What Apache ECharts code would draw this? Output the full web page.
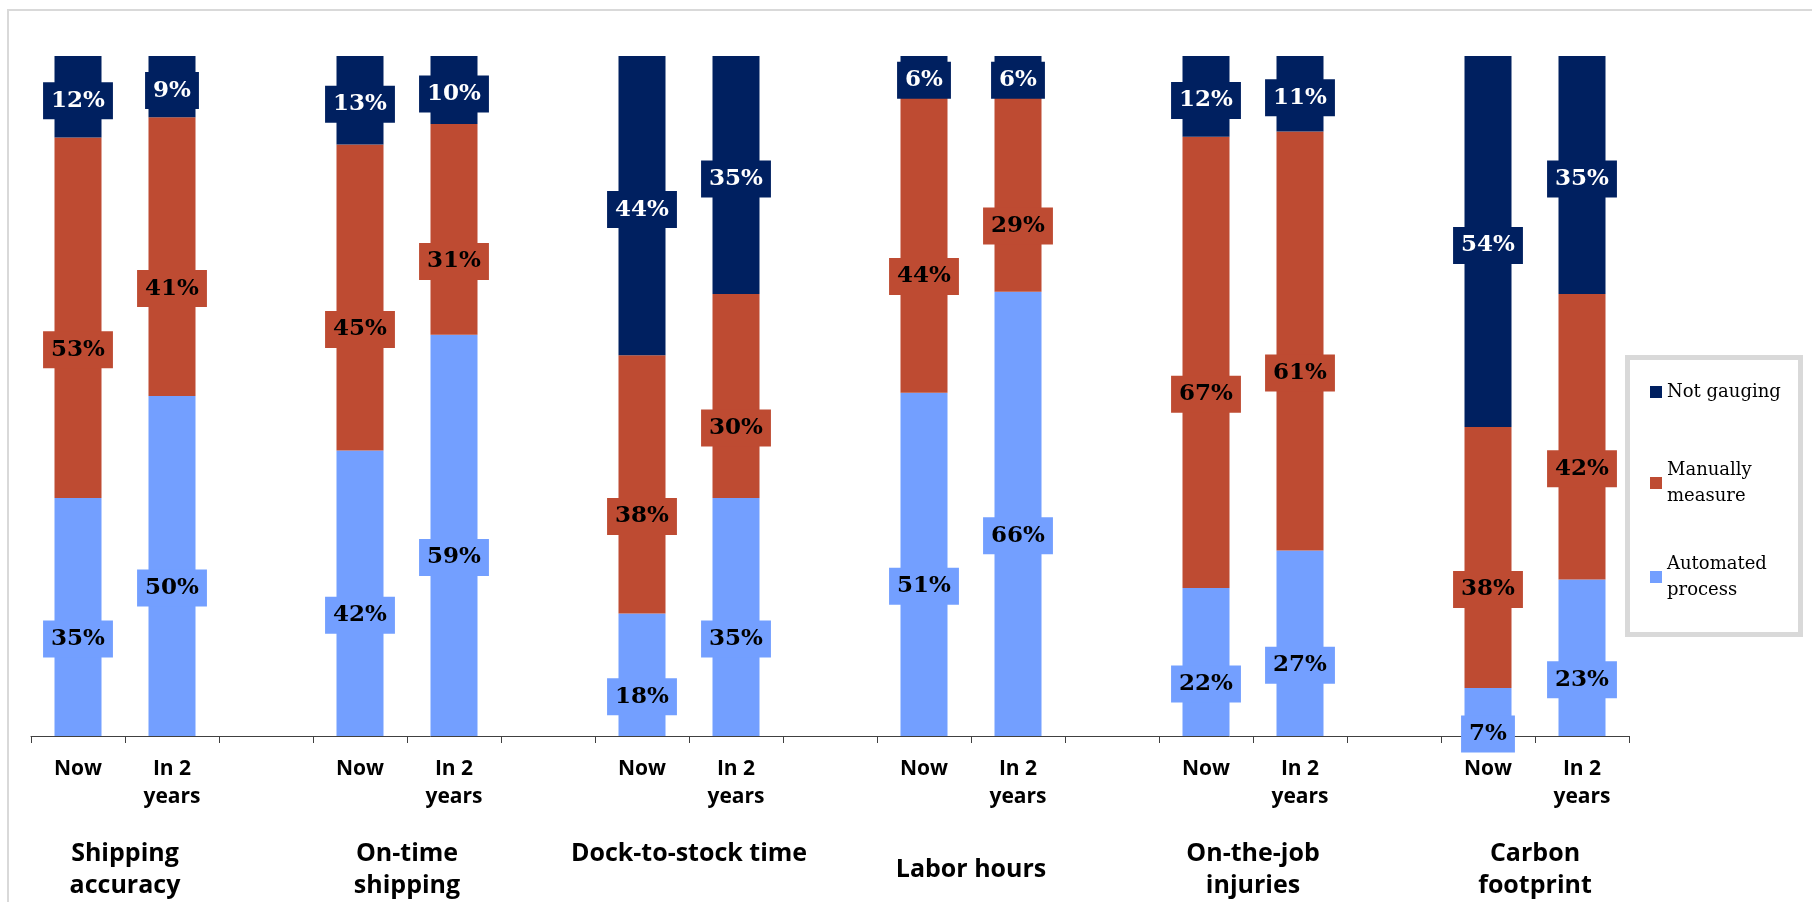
<!DOCTYPE html>
<html>
<head>
<meta charset="utf-8">
<script src="https://cdn.jsdelivr.net/npm/echarts@6/dist/echarts.min.js"></script>
<style>
  html, body { margin: 0; padding: 0; background: #ffffff; }
  #chart { width: 1812px; height: 902px; }
</style>
</head>
<body>
<div id="chart"></div>
<script>
// Metric groups along the bottom, each with a "Now" and an "In 2 years" bar
const groups = ['Shipping\naccuracy', 'On-time\nshipping', 'Dock-to-stock time\n', 'Labor hours', 'On-the-job\ninjuries', 'Carbon\nfootprint'];
const periods = ['Now', 'In 2\nyears'];

// Shares (%) per bar, ordered group by group: Now, In 2 years
const automated  = [35, 50, 42, 59, 18, 35, 51, 66, 22, 27, 7, 23];
const manual     = [53, 41, 45, 31, 38, 30, 44, 29, 67, 61, 38, 42];
const notGauging = [12, 9, 13, 10, 44, 35, 6, 6, 12, 11, 54, 35];

const seriesNames = ['Automated process', 'Manually measure', 'Not gauging'];
const legendText = {
  'Not gauging': 'Not gauging',
  'Manually measure': 'Manually\nmeasure',
  'Automated process': 'Automated\nprocess'
};

const colors = { auto: '#739FFF', manual: '#BE4B32', not: '#002060' };

// Category slots: two bars per group, with an empty spacer slot between groups
const categories = [];
const slotOfBar = [];
groups.forEach((g, gi) => {
  periods.forEach(p => { slotOfBar.push(categories.length); categories.push(p); });
  if (gi < groups.length - 1) categories.push('');
});

// 100% stacked: each bar is scaled to its own total, labels keep the stated value
function stackData(values) {
  const out = categories.map(() => null);
  values.forEach((v, i) => {
    const total = automated[i] + manual[i] + notGauging[i];
    out[slotOfBar[i]] = { value: v / total * 100, raw: v };
  });
  return out;
}

const serifFont = "'DejaVu Serif', 'Liberation Serif', serif";
const sansFont = "'Open Sans', 'DejaVu Sans', sans-serif";

function barLabel(bg, fg, dy) {
  return {
    show: true,
    position: 'inside',
    formatter: p => p.data.raw + '%',
    fontFamily: serifFont,
    fontWeight: 'bold',
    fontSize: 23,
    lineHeight: 25,
    color: fg,
    backgroundColor: bg,
    padding: [6, 8],
    offset: [0, dy]
  };
}

const chart = echarts.init(document.getElementById('chart'), null, { renderer: 'canvas' });

chart.setOption({
  animation: false,
  backgroundColor: '#ffffff',
  graphic: [
    {
      type: 'rect', z: -10, silent: true,
      shape: { x: 8, y: 10, width: 1900, height: 1000 },
      style: { fill: 'none', stroke: '#d9d9d9', lineWidth: 2 }
    },
    {
      type: 'rect', z: -5, silent: true,
      shape: { x: 1627.5, y: 357.5, width: 173, height: 277 },
      style: { fill: '#ffffff', stroke: '#d9d9d9', lineWidth: 5 }
    }
  ],
  grid: { left: 31, top: 56, width: 1598, height: 684, containLabel: false },
  legend: {
    orient: 'vertical',
    left: 1650,
    top: 356,
    padding: 0,
    itemWidth: 12,
    itemHeight: 12,
    itemGap: 16,
    icon: 'rect',
    selectedMode: false,
    formatter: name => legendText[name],
    textStyle: { fontFamily: serifFont, fontSize: 18, lineHeight: 26, color: '#000000', backgroundColor: 'rgba(255,255,255,0)' },
    data: [
      { name: 'Not gauging', textStyle: { padding: [23, 0, 23, 0] } },
      { name: 'Manually measure', textStyle: { padding: [26, 0, 0, 0] } },
      { name: 'Automated process', textStyle: { padding: [26, 0, 0, 0] } }
    ]
  },
  xAxis: [
    {
      type: 'category',
      data: categories,
      axisLine: { lineStyle: { color: '#404040', width: 1 } },
      axisTick: { show: true, interval: 0, length: 7, lineStyle: { color: '#404040' } },
      axisLabel: {
        interval: 0, margin: 19,
        fontFamily: sansFont, fontWeight: 'bold', fontSize: 21, lineHeight: 28, color: '#000000'
      }
    },
    {
      type: 'value',
      position: 'bottom',
      min: 0, max: 17, interval: 1,
      axisLine: { show: false },
      axisTick: { show: false },
      splitLine: { show: false },
      axisLabel: {
        margin: 134,
        verticalAlign: 'middle',
        fontFamily: sansFont, fontWeight: 'bold', fontSize: 25, lineHeight: 32, color: '#000000',
        formatter: v => ((v - 1) % 3 === 0 && groups[(v - 1) / 3] !== undefined) ? groups[(v - 1) / 3] : ''
      }
    }
  ],
  yAxis: {
    type: 'value', min: 0, max: 100, show: false
  },
  series: [
    {
      name: seriesNames[0], type: 'bar', stack: 'share', barCategoryGap: '50%',
      itemStyle: { color: colors.auto },
      label: barLabel(colors.auto, '#000000', 22),
      data: stackData(automated)
    },
    {
      name: seriesNames[1], type: 'bar', stack: 'share', barCategoryGap: '50%',
      itemStyle: { color: colors.manual },
      label: barLabel(colors.manual, '#000000', 32),
      data: stackData(manual)
    },
    {
      name: seriesNames[2], type: 'bar', stack: 'share', barCategoryGap: '50%',
      itemStyle: { color: colors.not },
      label: barLabel(colors.not, '#ffffff', 4),
      data: stackData(notGauging)
    }
  ]
});
</script>
</body>
</html>
